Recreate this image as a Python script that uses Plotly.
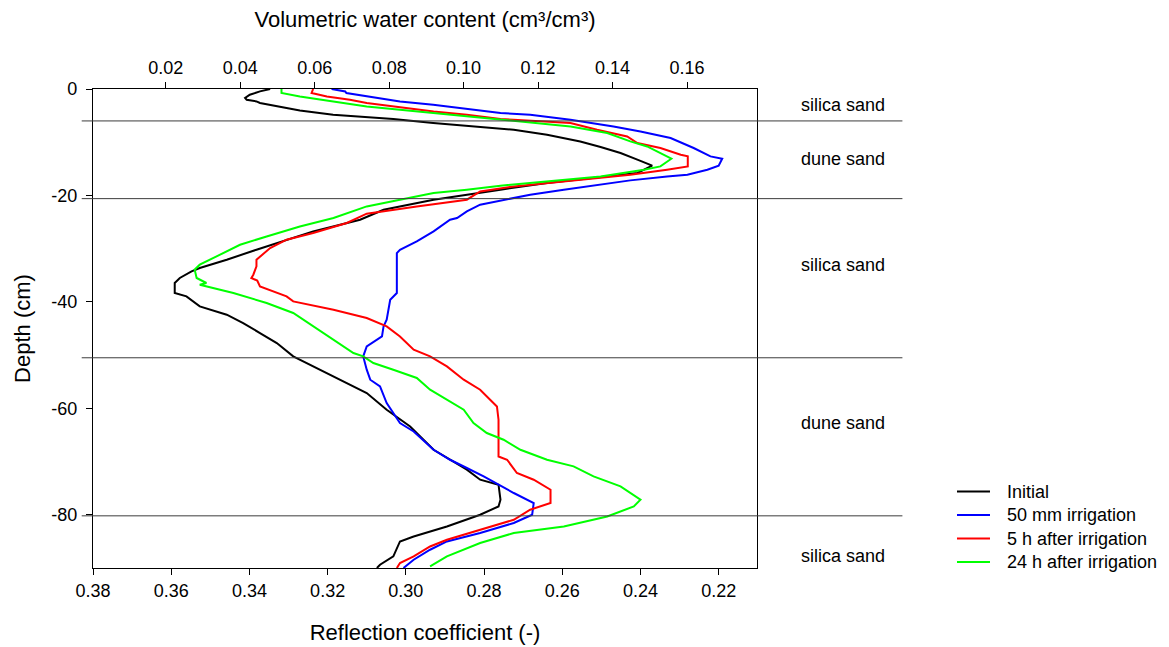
import plotly.graph_objects as go

# ---- Profile data: depth (cm) and reflection coefficient (-) ----
depth_initial = [0.0, -0.45, -1.07, -1.69, -2.01, -2.33, -2.63, -3.27, -4.02, -4.83, -5.26, -5.64,
                 -6.39, -6.90, -7.52, -7.65, -8.59, -9.85, -10.90, -12.03, -13.28, -14.41, -15.78,
                 -16.54, -17.66, -18.92, -20.80, -22.68, -24.56, -26.76, -28.32, -30.20, -32.08,
                 -33.63, -34.27, -35.51, -36.45, -38.33, -38.97, -40.85, -42.41, -43.97, -45.85,
                 -47.73, -50.24, -52.12, -54.62, -57.12, -60.26, -63.40, -67.78, -69.66, -71.53,
                 -73.41, -74.35, -77.17, -78.43, -79.99, -82.19, -84.07, -85.01, -87.82, -89.38, -90.0]
rc_initial = [0.3347, 0.3373, 0.3399, 0.3411, 0.3407, 0.3382, 0.3373, 0.3322, 0.3271, 0.3186, 0.3100, 0.3032,
              0.2930, 0.2844, 0.2758, 0.2724, 0.2639, 0.2554, 0.2502, 0.2451, 0.2408, 0.2370, 0.2408,
              0.2502, 0.2639, 0.2758, 0.2929, 0.3057, 0.3117, 0.3237, 0.3305, 0.3382, 0.3458,
              0.3527, 0.3548, 0.3578, 0.3591, 0.3591, 0.3561, 0.3527, 0.3458, 0.3416, 0.3373,
              0.3330, 0.3288, 0.3237, 0.3168, 0.3100, 0.3049, 0.2989, 0.2929, 0.2887, 0.2844,
              0.2810, 0.2763, 0.2758, 0.2763, 0.2810, 0.2895, 0.2980, 0.3015, 0.3032, 0.3066, 0.3074]

depth_50mm = [0.0, -0.45, -0.75, -1.39, -2.33, -2.95, -3.76, -4.51, -4.83, -5.77, -7.03, -7.97,
              -9.21, -11.09, -12.66, -13.10, -14.41, -15.16, -16.10, -16.42, -17.17, -17.98, -18.92,
              -19.85, -21.12, -21.74, -23.00, -24.24, -24.56, -26.76, -28.64, -30.20, -30.82,
              -38.33, -39.59, -43.35, -44.61, -46.49, -48.37, -50.24, -52.74, -54.62, -55.88,
              -59.00, -62.76, -64.34, -67.78, -69.66, -71.21, -72.79, -75.91, -77.79, -79.99,
              -81.55, -83.43, -85.01, -86.57, -88.44, -90.0]
rc_50mm = [0.3190, 0.3155, 0.3152, 0.3100, 0.3015, 0.2930, 0.2844, 0.2758, 0.2682, 0.2579, 0.2469, 0.2400,
           0.2323, 0.2264, 0.2221, 0.2191, 0.2200, 0.2229, 0.2280, 0.2332, 0.2426, 0.2511, 0.2596,
           0.2682, 0.2767, 0.2810, 0.2844, 0.2869, 0.2887, 0.2929, 0.2972, 0.3015, 0.3023,
           0.3023, 0.3040, 0.3049, 0.3057, 0.3061, 0.3100, 0.3109, 0.3100, 0.3091, 0.3066,
           0.3049, 0.3015, 0.2980, 0.2929, 0.2887, 0.2844, 0.2801, 0.2724, 0.2673, 0.2677,
           0.2724, 0.2810, 0.2895, 0.2938, 0.2980, 0.3006]

depth_5h = [0.0, -0.75, -1.39, -2.01, -2.63, -3.46, -4.21, -4.83, -5.64, -5.77, -6.39, -7.65,
            -8.91, -10.15, -11.09, -12.35, -12.66, -14.54, -15.16, -16.10, -17.04, -18.30, -19.24,
            -20.80, -22.06, -23.43, -25.18, -27.06, -28.32, -29.88, -32.08, -33.33, -34.89,
            -35.50, -36.00, -37.09, -38.97, -39.91, -41.47, -43.03, -44.61, -46.49, -48.99,
            -50.24, -52.12, -54.62, -56.50, -59.64, -62.14, -69.04, -69.66, -72.15, -73.41,
            -75.29, -77.79, -79.05, -80.93, -82.81, -84.69, -85.95, -87.82, -89.06, -90.0]
rc_5h = [0.3237, 0.3241, 0.3202, 0.3143, 0.3100, 0.3015, 0.2929, 0.2844, 0.2758, 0.2725, 0.2579, 0.2511,
         0.2434, 0.2408, 0.2349, 0.2297, 0.2279, 0.2279, 0.2332, 0.2426, 0.2554, 0.2724, 0.2810,
         0.2844, 0.2972, 0.3100, 0.3151, 0.3237, 0.3305, 0.3347, 0.3382, 0.3382, 0.3390,
         0.3395, 0.3380, 0.3373, 0.3305, 0.3288, 0.3185, 0.3100, 0.3049, 0.3015, 0.2980,
         0.2938, 0.2895, 0.2852, 0.2810, 0.2767, 0.2763, 0.2763, 0.2741, 0.2716, 0.2673,
         0.2630, 0.2630, 0.2682, 0.2724, 0.2810, 0.2895, 0.2938, 0.2980, 0.3015, 0.3023]

depth_24h = [0.0, -0.75, -1.39, -2.33, -3.27, -3.89, -4.51, -5.15, -5.77, -7.03, -8.27, -9.85,
             -10.79, -12.03, -13.10, -14.54, -15.16, -16.42, -17.36, -18.17, -18.92, -19.54, -20.80,
             -22.06, -24.24, -25.82, -27.70, -29.26, -31.45, -33.01, -33.95, -35.51, -36.45,
             -36.77, -38.33, -40.21, -42.09, -44.61, -47.11, -49.61, -50.24, -51.49, -52.74,
             -54.30, -56.50, -58.38, -60.26, -62.76, -64.64, -65.90, -67.78, -69.66, -70.91,
             -72.79, -74.67, -77.17, -78.43, -80.31, -82.19, -83.43, -85.31, -87.82, -89.70]
rc_24h = [0.3318, 0.3318, 0.3271, 0.3185, 0.3100, 0.3015, 0.2929, 0.2844, 0.2758, 0.2579, 0.2485, 0.2426,
          0.2383, 0.2349, 0.2321, 0.2349, 0.2391, 0.2502, 0.2639, 0.2758, 0.2844, 0.2929, 0.3015,
          0.3100, 0.3185, 0.3271, 0.3356, 0.3424, 0.3484, 0.3527, 0.3540, 0.3535, 0.3510,
          0.3527, 0.3441, 0.3356, 0.3288, 0.3237, 0.3185, 0.3134, 0.3109, 0.3083, 0.3032,
          0.2972, 0.2938, 0.2895, 0.2852, 0.2827, 0.2793, 0.2750, 0.2707, 0.2639, 0.2571,
          0.2520, 0.2451, 0.2400, 0.2417, 0.2485, 0.2596, 0.2724, 0.2810, 0.2895, 0.2938]

series_names = ["Initial", "50 mm irrigation", "5 h after irrigation", "24 h after irrigation"]
series_colors = ["#000000", "#0000ff", "#ff0000", "#00ff00"]

# ---- Soil layers ----
layer_bounds = [-6.0, -20.6, -50.5, -80.2]
layer_names = ["silica sand", "dune sand", "silica sand", "dune sand", "silica sand"]
layer_label_depths = [-3.0, -13.1, -33.0, -62.7, -87.7]

# ---- Axis ticks ----
rc_ticks = [0.38, 0.36, 0.34, 0.32, 0.30, 0.28, 0.26, 0.24, 0.22]
rc_ticktext = ["0.38", "0.36", "0.34", "0.32", "0.30", "0.28", "0.26", "0.24", "0.22"]
vwc_ticks = [0.02, 0.04, 0.06, 0.08, 0.10, 0.12, 0.14, 0.16]
vwc_ticktext = ["0.02", "0.04", "0.06", "0.08", "0.10", "0.12", "0.14", "0.16"]
depth_ticks = [0, -20, -40, -60, -80]
depth_ticktext = ["0", "-20", "-40", "-60", "-80"]

FONT = "Liberation Sans, Arial, sans-serif"

fig = go.Figure()

profiles = [(rc_initial, depth_initial), (rc_50mm, depth_50mm), (rc_5h, depth_5h), (rc_24h, depth_24h)]
for (rc, dep), name, col in zip(profiles, series_names, series_colors):
    fig.add_trace(go.Scatter(x=rc, y=dep, mode="lines", name=name, showlegend=False,
                             line=dict(color=col, width=2)))

# empty trace so the top (water content) axis gets its own subplot
fig.add_trace(go.Scatter(x=[], y=[], xaxis="x2", yaxis="y", showlegend=False, hoverinfo="skip"))

# layer boundaries extend past both sides of the plot frame
for d in layer_bounds:
    fig.add_shape(type="line", xref="paper", yref="y", x0=-0.017, x1=1.219, y0=d, y1=d,
                  line=dict(color="#3c3c3c", width=1))

for name, d in zip(layer_names, layer_label_depths):
    fig.add_annotation(x=1.13, xref="paper", y=d, yref="y", text=name, showarrow=False,
                       font=dict(family=FONT, size=18, color="#000000"),
                       xanchor="center", yanchor="middle")

# key in the lower right corner: short line sample followed by the series name
key_x0, key_x1, key_text_x = 1.3012, 1.3509, 1.3735
key_top, key_step = 0.1597, 0.0491
for i, (name, col) in enumerate(zip(series_names, series_colors)):
    ky = key_top - i * key_step
    fig.add_shape(type="line", xref="paper", yref="paper", x0=key_x0, x1=key_x1, y0=ky, y1=ky,
                  line=dict(color=col, width=2))
    fig.add_annotation(x=key_text_x, xref="paper", y=ky, yref="paper", text=name, showarrow=False,
                       font=dict(family=FONT, size=18, color="#000000"),
                       xanchor="left", yanchor="middle")

axis_common = dict(showline=True, linecolor="#000000", linewidth=1.3, ticks="outside",
                   ticklen=6, tickcolor="#000000", tickwidth=1.3, showgrid=False, zeroline=False,
                   tickfont=dict(family=FONT, size=18, color="#000000"))

fig.update_layout(
    width=1169, height=647,
    margin=dict(l=93, r=412, t=89, b=79, autoexpand=False),
    paper_bgcolor="white", plot_bgcolor="white",
    font=dict(family=FONT, size=18, color="#000000"),
    xaxis=dict(range=[0.38, 0.2102], tickvals=rc_ticks, ticktext=rc_ticktext,
               ticklabelstandoff=0,
               title=dict(text="Reflection coefficient (-)", standoff=24,
                          font=dict(family=FONT, size=22)),
               **axis_common),
    xaxis2=dict(range=[0.00046, 0.1788], overlaying="x", side="top", anchor="y",
                tickvals=vwc_ticks, ticktext=vwc_ticktext, ticklabelstandoff=1,
                title=dict(text="Volumetric water content (cm³/cm³)", standoff=23,
                           font=dict(family=FONT, size=22)),
                **axis_common),
    yaxis=dict(range=[-90, 0], tickvals=depth_ticks, ticktext=depth_ticktext,
               mirror=True, ticklabelstandoff=5,
               title=dict(text="Depth (cm)", standoff=14, font=dict(family=FONT, size=22)),
               **axis_common),
    showlegend=False,
)

fig.write_html("out.html")
